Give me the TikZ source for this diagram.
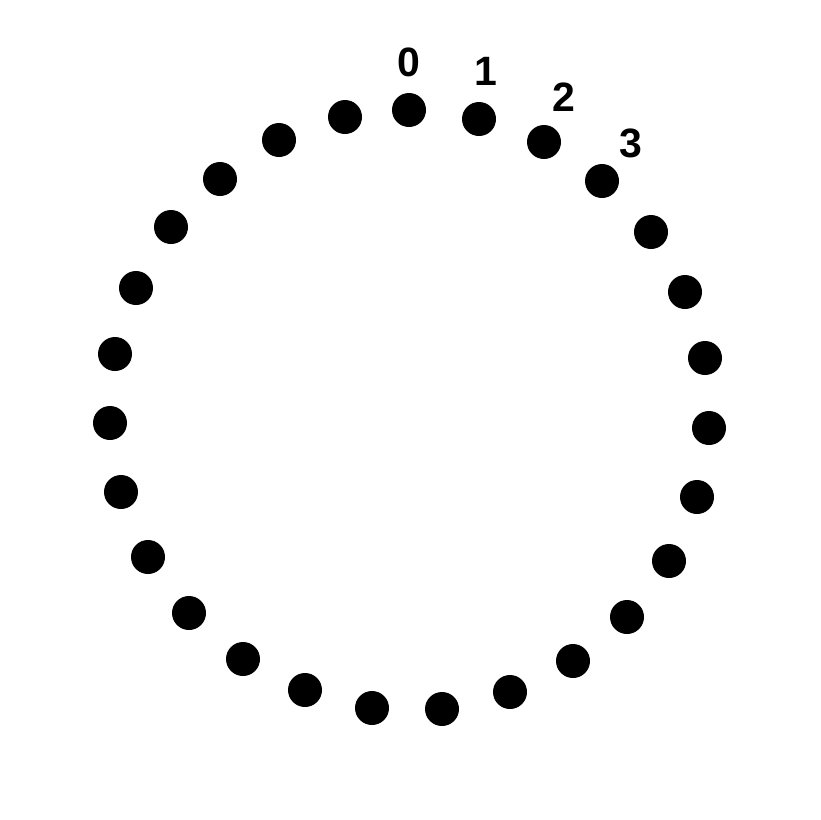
\documentclass[tikz,border=0pt]{standalone}
\usepackage{fontspec}
\setmainfont{Liberation Sans}
\begin{document}
\begin{tikzpicture}[x=1pt,y=-1pt,
  dotnode/.style={circle,fill=black,inner sep=0pt,minimum size=34pt},
  numlabel/.style={inner sep=0pt,font=\fontsize{41}{41}\selectfont\bfseries}]
\useasboundingbox[fill=white] (0,0) rectangle (820,820);
\foreach \x/\y [count=\k from 0] in {409/110,479/119,544/142,602/181,651/232,685/292,705/358,709/428,697/497,669/561,627/617,573/661,510/692,442/709,372/708,305/690,243/659,189/613,148/557,121/492,110/423,115/354,136/288,171/227,220/179,279/140,345/117}{
  \node[dotnode] (d\k) at (\x,\y) {};
}
\node[numlabel] (l0) at (409,62) {0};
\node[numlabel] (l1) at (486,71) {1};
\node[numlabel] (l2) at (564,97) {2};
\node[numlabel] (l3) at (631,143) {3};
\end{tikzpicture}
\end{document}
